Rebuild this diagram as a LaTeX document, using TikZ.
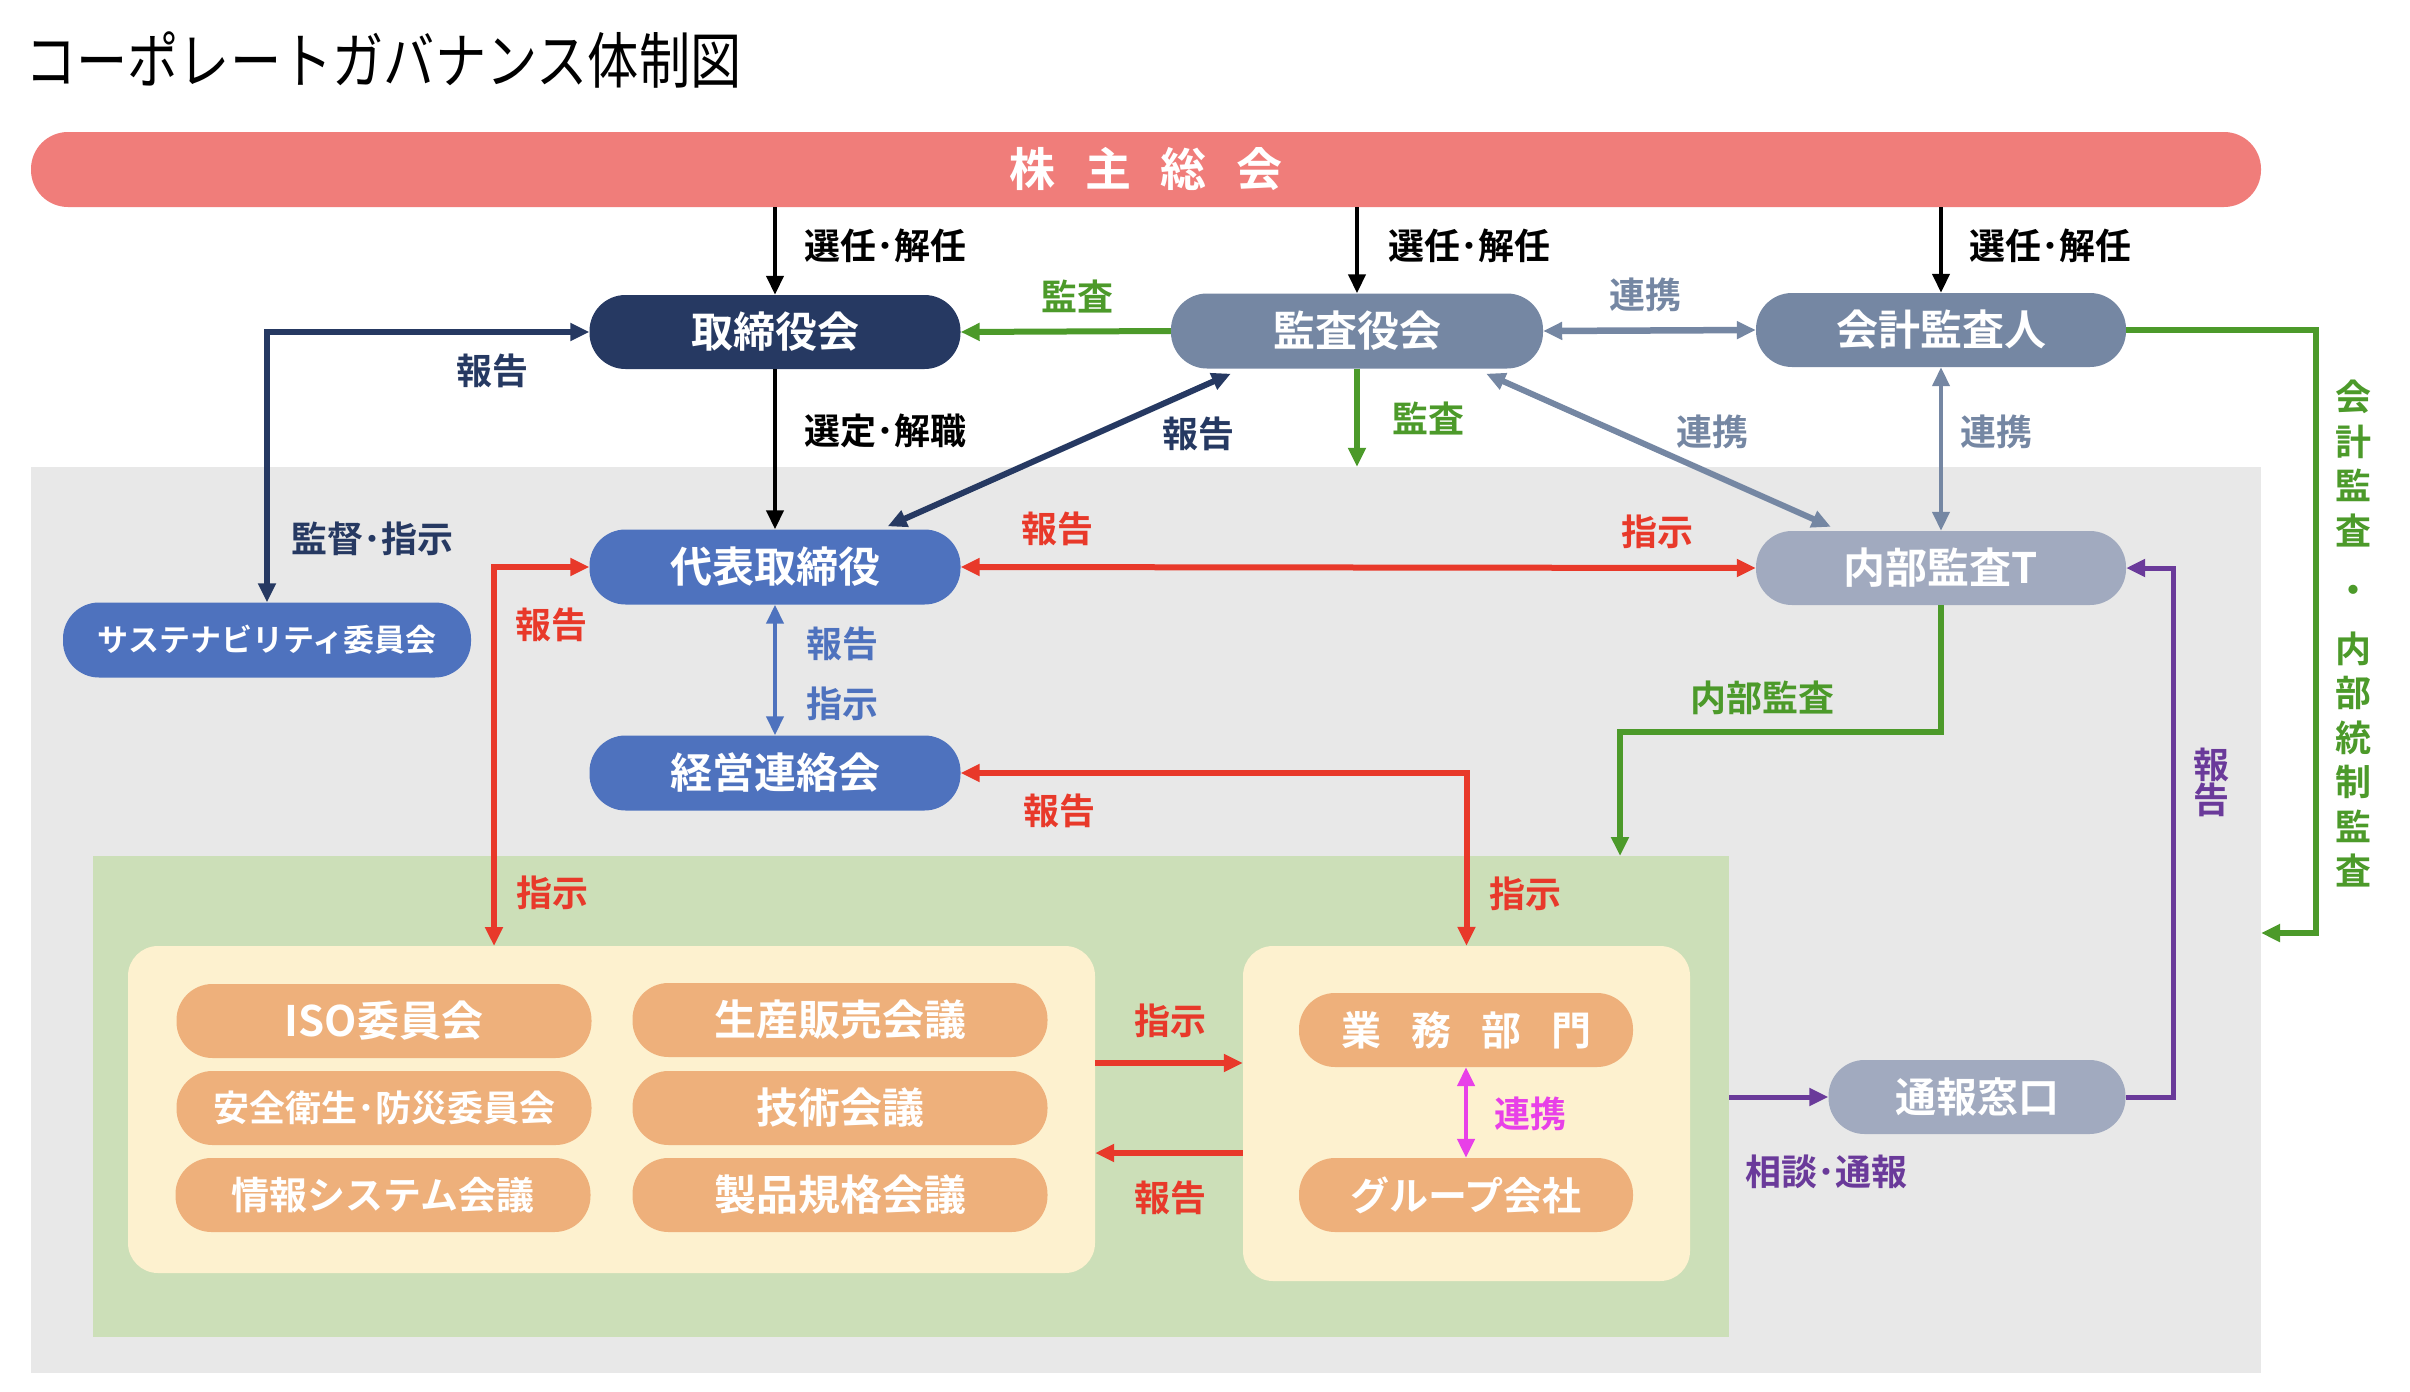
\documentclass[tikz,border=0pt]{standalone}
\usepackage{fontspec}
\setmainfont{Noto Sans CJK JP}[BoldFont={Noto Sans CJK JP Bold}]
\newfontfamily\titlefont{Noto Sans CJK JP}[FakeStretch=0.84]
\usetikzlibrary{arrows.meta}
\definecolor{cBar}{RGB}{240,125,122}
\definecolor{cNavy}{RGB}{38,57,98}
\definecolor{cSlate}{RGB}{117,135,163}
\definecolor{cLSlate}{RGB}{161,170,191}
\definecolor{cBlue}{RGB}{78,114,190}
\definecolor{cGray}{RGB}{232,232,232}
\definecolor{cGreenBg}{RGB}{204,223,184}
\definecolor{cCream}{RGB}{253,241,207}
\definecolor{cOrange}{RGB}{238,176,123}
\definecolor{cRed}{RGB}{232,57,42}
\definecolor{cGreen}{RGB}{76,154,42}
\definecolor{cPurple}{RGB}{106,58,154}
\definecolor{cMagenta}{RGB}{232,64,232}
\tikzset{
  tip/.tip={Triangle[length=19pt,width=17pt]},
  pill/.style={rounded corners=36pt, minimum height=74pt, inner sep=0pt, text=white,
    font=\bfseries\fontsize{42}{46}\selectfont},
  navynode/.style={pill, fill=cNavy, minimum width=371pt},
  slatenode/.style={pill, fill=cSlate, minimum width=371pt},
  lslatenode/.style={pill, fill=cLSlate, minimum width=370pt},
  bluenode/.style={pill, fill=cBlue, minimum width=371pt},
  orangenode/.style={pill, fill=cOrange, minimum width=415pt},
  bgbox/.style={inner sep=0pt, draw=none},
  lab/.style={inner sep=0pt, font=\bfseries\fontsize{36}{40}\selectfont},
  blk/.style={draw=black, line width=4pt, -tip},
  redl/.style={draw=cRed, line width=6pt},
  grnl/.style={draw=cGreen, line width=6pt, -tip},
  navyl/.style={draw=cNavy, line width=6pt, tip-tip},
}
\begin{document}
\begin{tikzpicture}[x=1pt,y=-1pt]
\useasboundingbox[fill=white] (0,0) rectangle (2410,1392);

% title
\node[anchor=west, inner sep=0pt, font=\titlefont\fontsize{61}{64}\selectfont] (title) at (25,60) {コーポレートガバナンス体制図};

% backgrounds
\node[bgbox, fill=cGray, minimum width=2230pt, minimum height=906pt] (gray) at (1146,920) {};
\node[bgbox, fill=cGreenBg, minimum width=1636pt, minimum height=481pt] (green) at (911,1096.5) {};
\node[bgbox, fill=cCream, rounded corners=30pt, minimum width=967pt, minimum height=327pt] (creamL) at (611.5,1109.5) {};
\node[bgbox, fill=cCream, rounded corners=30pt, minimum width=447pt, minimum height=335pt] (creamR) at (1466.5,1113.5) {};

% shareholders bar
\node[pill, fill=cBar, minimum width=2230pt, minimum height=75pt, rounded corners=37pt,
  font=\bfseries\fontsize{46}{50}\selectfont] (sh) at (1146,169.5) {株\hspace{30pt}主\hspace{30pt}総\hspace{30pt}会};

% main nodes
\node[navynode] (tori) at (775,332) {取締役会};
\node[slatenode, minimum width=372pt, minimum height=75pt] (kansa) at (1357,331) {監査役会};
\node[slatenode, minimum width=370pt] (kaikei) at (1941,330) {会計監査人};
\node[bluenode, minimum height=75pt] (daihyo) at (775,567) {代表取締役};
\node[bluenode, minimum height=75pt] (keiei) at (775,773) {経営連絡会};
\node[bluenode, minimum width=408pt, minimum height=75pt, font=\bfseries\fontsize{31}{34}\selectfont] (sus) at (267,640) {サステナビリティ委員会};
\node[lslatenode] (naibu) at (1941,568) {内部監査T};
\node[lslatenode, minimum width=297pt, font=\bfseries\fontsize{41}{46}\selectfont] (tsuho) at (1977,1097) {通報窓口};

% orange pills
\node[orangenode] (iso) at (384,1021) {ISO委員会};
\node[orangenode] (sanpan) at (840,1020) {生産販売会議};
\node[orangenode, font=\bfseries\fontsize{36}{40}\selectfont] (anzen) at (384,1108) {安全衛生･防災委員会};
\node[orangenode] (gijutsu) at (840,1108) {技術会議};
\node[orangenode, font=\bfseries\fontsize{38}{42}\selectfont] (joho) at (383,1195) {情報システム会議};
\node[orangenode] (seihin) at (840,1195) {製品規格会議};
\node[orangenode, minimum width=334pt, font=\bfseries\fontsize{40}{44}\selectfont] (gyomu) at (1466,1030) {業\hspace{30pt}務\hspace{30pt}部\hspace{30pt}門};
\node[orangenode, minimum width=334pt, font=\bfseries\fontsize{39}{44}\selectfont] (group) at (1466,1195) {グループ会社};

% coordinates for free ends
\coordinate (gk) at (2261,933);
\coordinate (gnt) at (1620,856);
\coordinate (cLtop) at (494,946);

% connectors
\draw[blk] (tori.north |- sh.south) -- (tori.north);
\draw[blk] (kansa.north |- sh.south) -- (kansa.north);
\draw[blk] (kaikei.north |- sh.south) -- (kaikei.north);
\draw[blk] (tori.south) -- (daihyo.north);
\draw[grnl] (kansa.west) -- (tori.east);
\draw[draw=cSlate, line width=6.5pt, tip-tip] (kansa.east) -- (kaikei.west);
\draw[navyl] (tori.west) -| (sus.north);
\draw[navyl] ([xshift=60pt,yshift=-5pt]kansa.south west) -- ([xshift=-73pt,yshift=3pt]daihyo.north east);
\draw[grnl] (kansa.south) -- (kansa.south |- gray.north);
\draw[draw=cSlate, line width=6pt, tip-tip] ([xshift=-57pt,yshift=-5pt]kansa.south east) -- ([xshift=75pt,yshift=4pt]naibu.north west);
\draw[draw=cSlate, line width=4pt, tip-tip] (kaikei.south) -- (naibu.north);
\draw[redl, tip-tip] (daihyo.east) -- (naibu.west);
\draw[grnl] (kaikei.east) -- ++(190,0) |- (gk);
\draw[grnl] (naibu.south) -- ++(0,127) -| (gnt);
\draw[redl, tip-tip] (daihyo.west) -| (cLtop);
\draw[redl, tip-tip] (keiei.east) -| (creamR.north);
\draw[draw=cBlue, line width=4pt, tip-tip] (daihyo.south) -- (keiei.north);
\draw[redl, -tip] ([yshift=46.5pt]creamL.east) -- ([yshift=46.5pt]creamL.east -| creamR.west);
\draw[redl, -tip] ([yshift=-39.5pt]creamR.west) -- ([yshift=-39.5pt]creamR.west -| creamL.east);
\draw[draw=cMagenta, line width=4.5pt, tip-tip] (gyomu.south) -- (group.north);
\draw[draw=cPurple, line width=5pt, -tip] (tsuho.west -| green.east) -- (tsuho.west);
\draw[draw=cPurple, line width=5pt, -tip] (tsuho.east) -- ++(47.5,0) |- (naibu.east);

% labels
\node[lab] (l1) at (885,246) {選任･解任};
\node[lab] (l2) at (1469,246) {選任･解任};
\node[lab] (l3) at (2050,246) {選任･解任};
\node[lab, text=cGreen] (l4) at (1077,296) {監査};
\node[lab, text=cSlate] (l5) at (1645,295) {連携};
\node[lab, text=cNavy] (l6) at (492,371) {報告};
\node[lab] (l7) at (885,431) {選定･解職};
\node[lab, text=cNavy] (l8) at (1198,434) {報告};
\node[lab, text=cGreen] (l9) at (1428,418) {監査};
\node[lab, text=cSlate] (l10) at (1712,432) {連携};
\node[lab, text=cSlate] (l11) at (1996,432) {連携};
\node[lab, text=cNavy] (l12) at (372,539) {監督･指示};
\node[lab, text=cRed] (l13) at (1057,529) {報告};
\node[lab, text=cRed] (l14) at (1657,532) {指示};
\node[lab, text=cRed] (l15) at (551,625) {報告};
\node[lab, text=cBlue] (l16) at (842,644) {報告};
\node[lab, text=cBlue] (l17) at (842,704) {指示};
\node[lab, text=cGreen] (l18) at (1762,698) {内部監査};
\node[lab, text=cRed] (l19) at (1059,811) {報告};
\node[lab, text=cRed] (l20) at (552,893) {指示};
\node[lab, text=cRed] (l21) at (1525,894) {指示};
\node[lab, text=cRed] (l22) at (1170,1021) {指示};
\node[lab, text=cMagenta] (l23) at (1530,1114) {連携};
\node[lab, text=cRed] (l24) at (1170,1198) {報告};
\node[lab, text=cPurple] (l25) at (1826,1172) {相談･通報};
\node[lab, text=cPurple, align=center, font=\bfseries\fontsize{36}{35}\selectfont] (l26) at (2211,782) {報\\告};
\node[lab, text=cGreen, align=center, font=\bfseries\fontsize{36}{44.5}\selectfont] (l27) at (2353,634) {会\\計\\監\\査\\[14.5pt]・\\[14.5pt]内\\部\\統\\制\\監\\査};
\end{tikzpicture}
\end{document}
